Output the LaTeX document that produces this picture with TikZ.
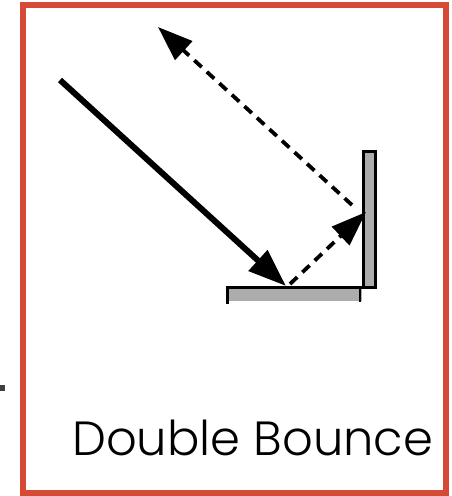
\documentclass[tikz,border=0pt]{standalone}
\usepackage{fontspec}
\setmainfont{Poppins Light}
\usetikzlibrary{arrows.meta}
\definecolor{framered}{RGB}{212,74,52}
\definecolor{plategray}{RGB}{172,172,172}
\tikzset{
  ray/.style={line width=6pt, -{Triangle[length=38pt,width=27pt]}},
  dray/.style={line width=3.8pt, dash pattern=on 10pt off 7pt, -{Triangle[length=35pt,width=25pt]}},
  plate/.style={fill=plategray, draw=black, line width=3pt},
}
\begin{document}
\begin{tikzpicture}[x=1pt,y=-1pt]
\useasboundingbox (0,0) rectangle (451,496);
% frame
\draw[framered, line width=6pt] (22.5,5) rectangle (445.5,492.5);
% small mark at left
\fill[black!75] (0,385) rectangle (5,391);
% plates
\fill[plategray] (227,287) rectangle (362,301);
\draw[line width=3pt] (227,287) -- (362,287);
\draw[line width=3pt] (227.5,286) -- (227.5,304);
\draw[line width=1.5pt] (360,288) -- (360,302);
\draw[plate] (363,151) rectangle (375.5,287);
% rays
\coordinate (s) at (60,80);
\coordinate (b1) at (286,286);
\coordinate (b2) at (366,212);
\coordinate (r0) at (352,205);
\coordinate (e) at (158,27);
\draw[ray] (s) -- (b1);
\draw[dray] (290,284) -- (b2);
\draw[dray] (r0) -- (e);
% label
\node[anchor=base west, inner sep=0pt, font=\fontsize{48}{52}\selectfont] (lbl) at (72,455) {Double Bounce};
\end{tikzpicture}
\end{document}
